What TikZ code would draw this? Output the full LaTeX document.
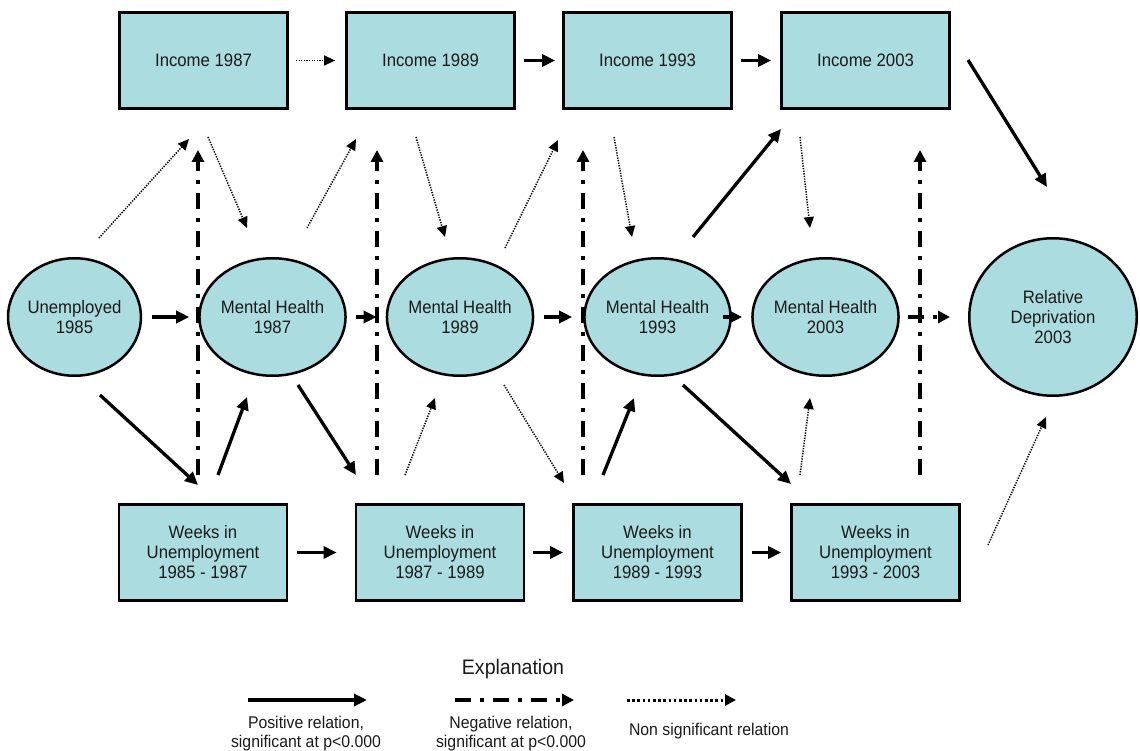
\documentclass[tikz,border=0pt]{standalone}
\usepackage{fontspec}
\setmainfont{Liberation Sans}[FakeStretch=0.93]
\usetikzlibrary{arrows.meta,calc,shapes.geometric}
\definecolor{boxfill}{HTML}{ABDCE0}
\definecolor{ink}{HTML}{1A1A1A}
\begin{document}
\begin{tikzpicture}[x=1pt,y=-1pt,
  txt/.style={font=\fontsize{18}{20}\selectfont, align=center, inner sep=0pt, text=ink},
  box/.style={txt, draw=black, line width=2.8pt, fill=boxfill, minimum width=168pt, minimum height=96pt},
  circ/.style={txt, ellipse, draw=black, line width=2.5pt, fill=boxfill, minimum width=128.5pt, minimum height=117.5pt},
  bigcirc/.style={circ, minimum width=167.5pt, minimum height=157.5pt},
  posarrow/.style={line width=3.3pt, -{Triangle[length=13pt,width=12pt]}},
  negarrow/.style={line width=4.5pt, dash pattern=on 16pt off 9pt on 4pt off 9pt, -{Triangle[length=12pt,width=12pt]}},
  nsarrow/.style={line width=1.5pt, dash pattern=on 1.3pt off 1.3pt, -{Triangle[length=11pt,width=10pt]}},
  nsleg/.style={line width=3pt, dash pattern=on 2.6pt off 2.6pt, -{Triangle[length=11pt,width=11pt]}},
  legtxt/.style={font=\fontsize{17}{19}\selectfont, align=center, inner sep=0pt, text=ink}
]
\useasboundingbox (0,0) rectangle (1140,751);

% top row
\node[box] (inc87) at (203.5,60.5) {Income 1987};
\node[box] (inc89) at (430.5,60.5) {Income 1989};
\node[box] (inc93) at (647.5,60.5) {Income 1993};
\node[box] (inc03) at (865.5,60.5) {Income 2003};

% middle row
\node[circ] (un85) at (74.5,317) {Unemployed\\1985};
\node[circ] (mh87) at (272.5,317) {Mental Health\\1987};
\node[circ] (mh89) at (460,317) {Mental Health\\1989};
\node[circ] (mh93) at (657.5,317) {Mental Health\\1993};
\node[circ] (mh03) at (825.5,317) {Mental Health\\2003};
\node[bigcirc] (rd03) at (1053,317) {Relative\\Deprivation\\2003};

% bottom row
\node[box] (w87) at (203,552.5) {Weeks in\\Unemployment\\1985 - 1987};
\node[box] (w89) at (440,552.5) {Weeks in\\Unemployment\\1987 - 1989};
\node[box] (w93) at (657.5,552.5) {Weeks in\\Unemployment\\1989 - 1993};
\node[box] (w03) at (875.5,552.5) {Weeks in\\Unemployment\\1993 - 2003};

% horizontal connectors
\draw[nsarrow, shorten <=7pt, shorten >=10pt] (inc87) -- (inc89);
\draw[posarrow, shorten <=8pt, shorten >=7pt] (inc89) -- (inc93);
\draw[posarrow, shorten <=8pt, shorten >=9pt] (inc93) -- (inc03);
\draw[posarrow, shorten <=10pt, shorten >=9pt] (un85) -- (mh87);
\draw[posarrow, shorten <=9pt, shorten >=9pt] (mh87) -- (mh89);
\draw[posarrow, shorten <=10pt, shorten >=11pt] (mh89) -- (mh93);
\draw[posarrow, shorten <=9pt, shorten >=9pt] (mh93) -- (mh03);
\draw[negarrow, shorten <=8pt, shorten >=18pt] (mh03) -- (rd03);
\draw[posarrow, shorten <=9pt, shorten >=18pt] (w87) -- (w89);
\draw[posarrow, shorten <=8pt, shorten >=9pt] (w89) -- (w93);
\draw[posarrow, shorten <=9pt, shorten >=9pt] (w93) -- (w03);

% non significant (dotted)
\draw[nsarrow] ($(un85)+(24.5,-79)$) -- ($(inc87)+(-14.5,78.5)$);
\draw[nsarrow] ($(inc87)+(4.5,76.5)$) -- ($(mh87)+(-25.5,-89)$);
\draw[nsarrow] ($(mh87)+(34.5,-89)$) -- ($(inc89)+(-74.5,78.5)$);
\draw[nsarrow] ($(inc89)+(-14.5,76.5)$) -- ($(mh89)+(-15,-80)$);
\draw[nsarrow] ($(mh89)+(45,-69)$) -- ($(inc93)+(-89.5,79.5)$);
\draw[nsarrow] ($(inc93)+(-33.5,76.5)$) -- ($(mh93)+(-25.5,-80)$);
\draw[nsarrow] ($(inc03)+(-65.5,76.5)$) -- ($(mh03)+(-15.5,-89)$);
\draw[nsarrow] ($(w89)+(-35,-77.5)$) -- ($(mh89)+(-25,81)$);
\draw[nsarrow] ($(mh89)+(44,68)$) -- ($(w93)+(-93.5,-69.5)$);
\draw[nsarrow] ($(w03)+(-75.5,-77.5)$) -- ($(mh03)+(-15.5,81)$);
\draw[nsarrow] ($(w03)+(112.5,-7.5)$) -- ($(rd03)+(-7,100)$);

% positive (solid)
\draw[posarrow] ($(mh93)+(35.5,-80)$) -- ($(inc03)+(-84.5,68.5)$);
\draw[posarrow] ($(inc03)+(102.5,-0.5)$) -- ($(rd03)+(-6,-130)$);
\draw[posarrow] ($(un85)+(25.5,78)$) -- ($(w87)+(-5,-67.5)$);
\draw[posarrow] ($(w87)+(15,-77.5)$) -- ($(mh87)+(-25.5,80)$);
\draw[posarrow] ($(mh87)+(25.5,68)$) -- ($(w89)+(-84,-77.5)$);
\draw[posarrow] ($(w93)+(-54.5,-77.5)$) -- ($(mh93)+(-23.5,81)$);
\draw[posarrow] ($(mh93)+(25.5,68)$) -- ($(w03)+(-84.5,-68.5)$);

% negative (dash-dot, vertical)
\draw[negarrow] ($(w87)+(-5,-77.5)$) -- ($(inc87)+(-5.5,89.5)$);
\draw[negarrow] ($(w89)+(-63,-77.5)$) -- ($(inc89)+(-53.5,89.5)$);
\draw[negarrow] ($(w93)+(-74.5,-77.5)$) -- ($(inc93)+(-64.5,89.5)$);
\draw[negarrow] ($(w03)+(44.5,-77.5)$) -- ($(inc03)+(54.5,89.5)$);

% legend
\node[font=\fontsize{21}{23}\selectfont, inner sep=0pt, text=ink] (expl) at (513,669) {Explanation};
\coordinate (lpa) at (248,700); \coordinate (lpb) at (367,700);
\coordinate (lna) at (455,700); \coordinate (lnb) at (574,700);
\coordinate (lsa) at (627,700); \coordinate (lsb) at (736,700);
\draw[posarrow] (lpa) -- (lpb);
\draw[negarrow] (lna) -- (lnb);
\draw[nsleg] (lsa) -- (lsb);
\node[legtxt] (lpt) at (306,733.5) {Positive relation,\\significant at p<0.000};
\node[legtxt] (lnt) at (511,733.5) {Negative relation,\\significant at p<0.000};
\node[legtxt] (lst) at (709,731) {Non significant relation};
\end{tikzpicture}
\end{document}
